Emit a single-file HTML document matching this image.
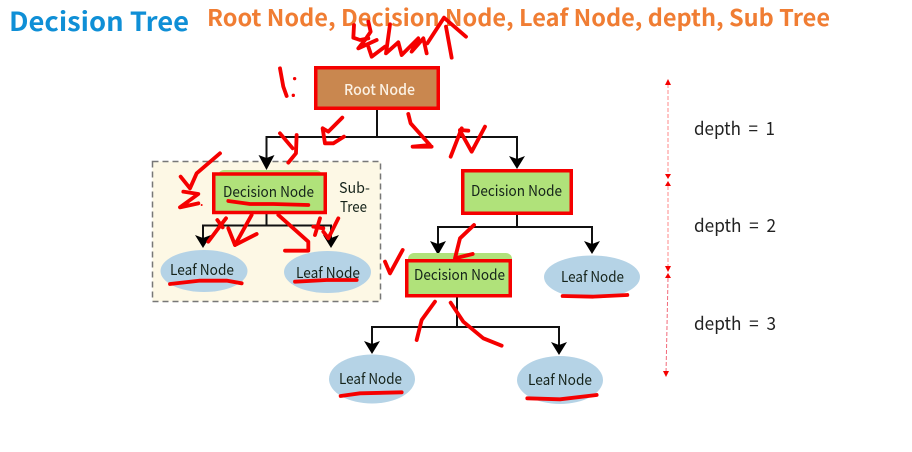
<!DOCTYPE html>
<html lang="en">
<head>
<meta charset="utf-8">
<title>Decision Tree</title>
<style>
html,body{margin:0;padding:0;background:#fff}
svg{display:block}
text{font-family:"Noto Sans CJK KR","Liberation Sans",sans-serif}
.h{font-weight:700}
.n{font-size:15px;fill:#15231a}
.d{font-size:18px;fill:#222;font-weight:400;white-space:pre}
.c{fill:none;stroke:#111;stroke-width:2}
.r polyline{fill:none;stroke:#f50000;stroke-width:11.500;stroke-linecap:round;stroke-linejoin:round}
.r circle{fill:#f50000}
</style>
</head>
<body>
<svg width="912" height="452" viewBox="0 0 912 452" xmlns="http://www.w3.org/2000/svg">
<rect width="912" height="452" fill="#fff"/>

<text class="h" x="9" y="31" font-size="26" fill="#0f8fd6" textLength="180" lengthAdjust="spacingAndGlyphs">Decision Tree</text>
<text class="h" x="207" y="26" font-size="23" fill="#f07d33" textLength="623" lengthAdjust="spacingAndGlyphs">Root Node, Decision Node, Leaf Node, depth, Sub Tree</text>

<!-- subtree box -->
<rect x="152.500" y="161.500" width="228" height="140" fill="#fdf8e5" stroke="#777" stroke-width="1.500" stroke-dasharray="6 4"/>

<!-- connectors -->
<polyline class="c" points="377,110 377,137"/>
<polyline class="c" points="266.500,160 266.500,137 517,137 517,160"/>
<polyline class="c" points="266.500,214 266.500,225.500"/>
<polyline class="c" points="203,240 203,225.500 331,225.500 331,240"/>
<polyline class="c" points="517,215 517,227"/>
<polyline class="c" points="438,245 438,227 592,227 592,245"/>
<polyline class="c" points="457,297 457,327"/>
<polyline class="c" points="372,345 372,327 559,327 559,345"/>

<!-- arrowheads -->
<g fill="#000">
<polygon points="258.500,155 266.500,158 274.500,155 266.500,170"/>
<polygon points="509,156 517,159 525,156 517,169"/>
<polygon points="195,235 203,238 211,235 203,248"/>
<polygon points="323,235 331,238 339,235 331,248"/>
<polygon points="430,241 438,244 446,241 438,255"/>
<polygon points="584,241 592,244 600,241 592,254"/>
<polygon points="364,341 372,344 380,341 372,354"/>
<polygon points="551,342 559,345 567,342 559,355"/>
</g>

<!-- nodes -->
<rect x="315.750" y="67.750" width="122.500" height="40.500" fill="#c9874f" stroke="#f50000" stroke-width="3.500"/>
<text x="344" y="95" font-size="15" fill="#fbf1e4" font-weight="500" textLength="71" lengthAdjust="spacingAndGlyphs">Root Node</text>

<rect x="218" y="170" width="104" height="44" rx="6" fill="#b0e27a"/>
<rect x="213.750" y="174" width="111.500" height="38.500" fill="#b0e27a" stroke="#f50000" stroke-width="3.500"/>
<text class="n" x="223" y="197" textLength="91" lengthAdjust="spacingAndGlyphs">Decision Node</text>

<rect x="462.750" y="170.750" width="108.500" height="42.500" fill="#b0e27a" stroke="#f50000" stroke-width="3.500"/>
<text class="n" x="471" y="196" textLength="91" lengthAdjust="spacingAndGlyphs">Decision Node</text>

<rect x="408" y="253" width="104" height="30" rx="6" fill="#b0e27a"/>
<rect x="406.750" y="260.750" width="103.500" height="35" fill="#b0e27a" stroke="#f50000" stroke-width="3.500"/>
<text class="n" x="414" y="280" textLength="91" lengthAdjust="spacingAndGlyphs">Decision Node</text>

<g fill="#b5d3e6">
<ellipse cx="204" cy="271" rx="43.500" ry="21"/>
<ellipse cx="327.500" cy="272" rx="43.500" ry="21"/>
<ellipse cx="592" cy="277" rx="48" ry="21.500"/>
<ellipse cx="372" cy="379" rx="43" ry="24.500"/>
<ellipse cx="560" cy="380" rx="43" ry="24"/>
</g>
<text class="n" x="170" y="275" textLength="64" lengthAdjust="spacingAndGlyphs">Leaf Node</text>
<text class="n" x="296" y="278" textLength="64" lengthAdjust="spacingAndGlyphs">Leaf Node</text>
<text class="n" x="561" y="282" textLength="63" lengthAdjust="spacingAndGlyphs">Leaf Node</text>
<text class="n" x="339" y="384" textLength="63" lengthAdjust="spacingAndGlyphs">Leaf Node</text>
<text class="n" x="528" y="385" textLength="64" lengthAdjust="spacingAndGlyphs">Leaf Node</text>

<text class="n" x="339" y="193" textLength="31" lengthAdjust="spacingAndGlyphs">Sub-</text>
<text class="n" x="340" y="212" textLength="27" lengthAdjust="spacingAndGlyphs">Tree</text>

<!-- depth -->
<g fill="none" stroke="#ffb0b0" stroke-width="1.500" stroke-dasharray="4 2">
<line x1="668" y1="84" x2="668" y2="176"/>
<line x1="668" y1="186" x2="668" y2="268"/>
</g>
<line x1="668" y1="278" x2="666" y2="374" stroke="#f26a7a" stroke-width="1" stroke-dasharray="4 2"/>
<g fill="#f50000">
<polygon points="668,79 671,85 665,85"/>
<polygon points="665,174 671,174 668,179"/>
<polygon points="668,181 671,186 665,186"/>
<polygon points="665,266 671,266 668,272"/>
<polygon points="668,273 671,278 665,278"/>
<polygon points="663,371 669,371 666,377"/>
</g>
<text class="d" x="694" y="135" textLength="81" lengthAdjust="spacingAndGlyphs">depth  =  1</text>
<text class="d" x="694" y="232" textLength="82" lengthAdjust="spacingAndGlyphs">depth  =  2</text>
<text class="d" x="694" y="330" textLength="82" lengthAdjust="spacingAndGlyphs">depth  =  3</text>

<!-- handwriting: top -->
<g class="r" transform="translate(340,5) scale(.3333)">
<polyline points="42,60 40,98 60,105 85,100"/>
<polyline points="85,50 92,80 75,105 55,130 110,105"/>
<polyline points="85,125 95,155 135,125"/>
<polyline points="150,58 138,145 175,112 185,150 235,100 215,140 250,100 260,145"/>
<polyline points="262,115 312,38 378,95"/>
<polyline points="318,65 335,158"/>
</g>

<!-- handwriting: zoom1 coords -->
<g class="r" transform="scale(.3333)">
<polyline points="840,205 850,260 860,288"/>
<circle cx="884" cy="236" r="5"/>
<circle cx="880" cy="286" r="5"/>
<polyline points="1027,353 985,395 968,385 975,430 1000,430 1032,410"/>
<polyline points="840,400 878,445"/>
<polyline points="890,405 888,460 865,488"/>
<polyline points="1225,342 1232,370 1290,435 1238,440 1295,440"/>
</g>

<!-- handwriting: right side -->
<g class="r" transform="translate(380,100) scale(.3333)">
<polyline points="245,85 212,170"/>
<polyline points="240,92 275,155 315,80"/>
<polyline points="240,90 265,92"/>
<polyline points="68,450 30,520 15,485"/>
<polyline points="282,375 240,415 225,475 278,462"/>
<polyline points="548,588 640,590 742,585"/>
</g>

<!-- handwriting: subtree -->
<g class="r" transform="translate(140,120) scale(.3333)">
<polyline points="240,100 170,160 150,205 122,170"/>
<polyline points="130,215 175,222 120,262 175,250"/>
<circle cx="185" cy="255" r="3"/>
<polyline points="265,243 330,252 400,252 505,255"/>
<polyline points="258,295 235,325 205,365"/>
<polyline points="232,300 248,322"/>
<polyline points="335,285 285,375 265,325"/>
<polyline points="285,375 350,342"/>
<polyline points="415,285 505,365 505,392 435,392"/>
<polyline points="540,295 525,345"/>
<polyline points="520,320 550,325"/>
<polyline points="595,295 565,355 550,335"/>
<polyline points="90,492 180,482 260,482 305,490"/>
<polyline points="465,485 560,480 650,480"/>
</g>

<!-- handwriting: lower -->
<g class="r" transform="translate(320,290) scale(.3333)">
<polyline points="345,35 305,90 290,150"/>
<polyline points="392,38 430,95 490,145 545,167"/>
<polyline points="62,318 120,310 245,307"/>
<polyline points="622,325 720,328 830,315"/>
</g>
</svg>
</body>
</html>
